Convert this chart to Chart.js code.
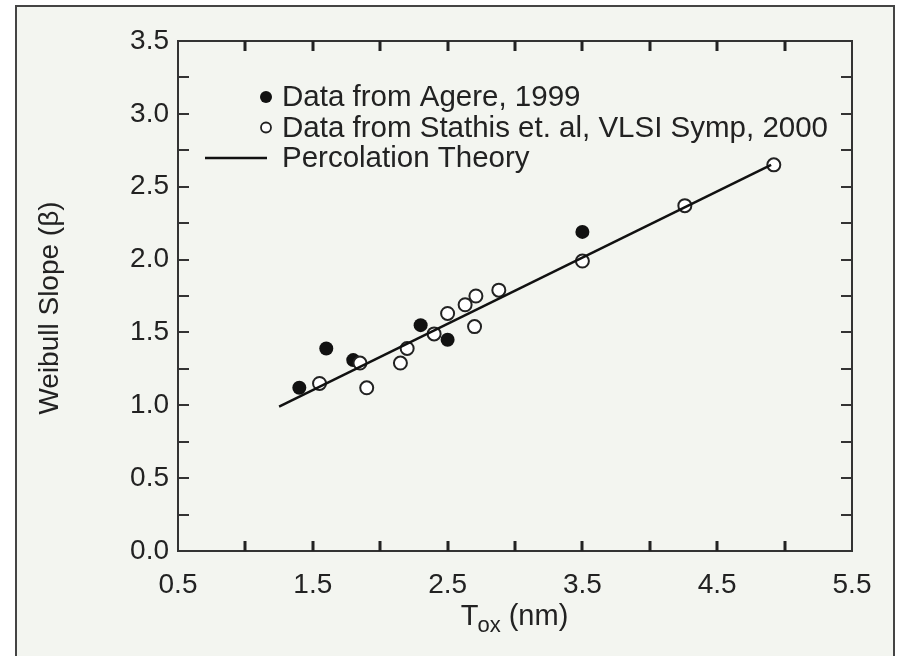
<!DOCTYPE html>
<html>
<head>
<meta charset="utf-8">
<script src="https://cdn.jsdelivr.net/npm/chart.js@4/dist/chart.umd.min.js"></script>
<style>
  body { margin: 0; background: #fff; }
  canvas { display: block; }
</style>
</head>
<body>
<canvas id="chart" width="898" height="656"></canvas>
<script>
// data
const agereX = [1.40, 1.60, 1.80, 2.30, 2.50, 3.50];
const agereY = [1.12, 1.39, 1.31, 1.55, 1.45, 2.19];

const stathisX = [1.55, 1.85, 1.90, 2.15, 2.20, 2.40, 2.50, 2.63, 2.70, 2.71, 2.88, 3.50, 4.26, 4.92];
const stathisY = [1.15, 1.29, 1.12, 1.29, 1.39, 1.49, 1.63, 1.69, 1.54, 1.75, 1.79, 1.99, 2.37, 2.65];

const theoryX = [1.25, 4.90];
const theoryY = [0.99, 2.65];

const xLabels = ['0.5', '1.5', '2.5', '3.5', '4.5', '5.5'];
const yLabels = ['0.0', '0.5', '1.0', '1.5', '2.0', '2.5', '3.0', '3.5'];

const legendItems = [
  { kind: 'filled', text: 'Data from Agere, 1999' },
  { kind: 'open', text: 'Data from Stathis et. al, VLSI Symp, 2000' },
  { kind: 'line', text: 'Percolation Theory' }
];

const INK = '#222';
const PANEL = '#f3f5f0';
const FONT = '"Liberation Sans", Arial, sans-serif';

const toPoints = (xs, ys) => xs.map((x, i) => ({ x, y: ys[i] }));

// panel background, frame, plot box, inward ticks, titles, legend
const decor = {
  id: 'decor',
  beforeDraw(chart) {
    const ctx = chart.ctx;
    ctx.save();
    ctx.fillStyle = '#fff';
    ctx.fillRect(0, 0, chart.width, chart.height);
    ctx.fillStyle = PANEL;
    ctx.fillRect(16, 6, 878, 660);
    ctx.strokeStyle = '#444';
    ctx.lineWidth = 2;
    ctx.strokeRect(16, 6, 878, 660);
    ctx.restore();
  },
  afterDraw(chart) {
    const ctx = chart.ctx;
    const a = chart.chartArea;
    const xs = chart.scales.x, ys = chart.scales.y;
    ctx.save();
    ctx.strokeStyle = '#333';
    ctx.lineWidth = 2;
    ctx.strokeRect(a.left, a.top, a.right - a.left, a.bottom - a.top);

    ctx.lineWidth = 3;
    ctx.strokeStyle = '#222';
    ctx.beginPath();
    xs.ticks.forEach(t => {
      if (t.value <= xs.min || t.value >= xs.max) return;
      const px = Math.round(xs.getPixelForValue(t.value));
      ctx.moveTo(px, a.bottom); ctx.lineTo(px, a.bottom - 10);
      ctx.moveTo(px, a.top); ctx.lineTo(px, a.top + 10);
    });
    ctx.stroke();
    ctx.lineWidth = 2;
    ctx.strokeStyle = '#333';
    ctx.beginPath();
    ys.ticks.forEach(t => {
      if (t.value <= ys.min || t.value >= ys.max) return;
      const py = Math.round(ys.getPixelForValue(t.value));
      ctx.moveTo(a.left, py); ctx.lineTo(a.left + 11, py);
      ctx.moveTo(a.right, py); ctx.lineTo(a.right - 11, py);
    });
    ctx.stroke();

    // x title with subscript
    ctx.fillStyle = INK;
    ctx.textBaseline = 'alphabetic';
    ctx.font = '29px ' + FONT;
    const tW = ctx.measureText('T').width;
    ctx.font = '22px ' + FONT;
    const subW = ctx.measureText('ox').width;
    ctx.font = '29px ' + FONT;
    const restW = ctx.measureText(' (nm)').width;
    let x0 = (a.left + a.right) / 2 - (tW + subW + restW) / 2;
    const base = a.bottom + 74;
    ctx.textAlign = 'left';
    ctx.fillText('T', x0, base);
    ctx.font = '22px ' + FONT;
    ctx.fillText('ox', x0 + tW - 1, base + 7);
    ctx.font = '29px ' + FONT;
    ctx.fillText(' (nm)', x0 + tW + subW - 1, base);

    // y title
    ctx.save();
    ctx.translate(50, (a.top + a.bottom) / 2 + 12);
    ctx.rotate(-Math.PI / 2);
    ctx.textAlign = 'center';
    ctx.textBaseline = 'middle';
    ctx.font = '28px ' + FONT;
    ctx.fillText('Weibull Slope (\u03b2)', 0, 0);
    ctx.restore();

    // legend inside the plot
    ctx.font = '29.5px ' + FONT;
    ctx.textAlign = 'left';
    ctx.textBaseline = 'middle';
    legendItems.forEach((it, i) => {
      const y = a.top + 56 + i * 30.5;
      const mx = a.left + 88;
      if (it.kind === 'filled') {
        ctx.fillStyle = '#111';
        ctx.beginPath(); ctx.arc(mx, y, 6, 0, Math.PI * 2); ctx.fill();
      } else if (it.kind === 'open') {
        ctx.fillStyle = '#fff';
        ctx.strokeStyle = '#222';
        ctx.lineWidth = 1.8;
        ctx.beginPath(); ctx.arc(mx, y, 5, 0, Math.PI * 2); ctx.fill(); ctx.stroke();
      } else {
        ctx.strokeStyle = '#111';
        ctx.lineWidth = 2.5;
        ctx.beginPath(); ctx.moveTo(a.left + 27, y); ctx.lineTo(a.left + 89, y); ctx.stroke();
      }
      ctx.fillStyle = INK;
      ctx.fillText(it.text, a.left + 104, y + 1);
    });
    ctx.restore();
  }
};

new Chart(document.getElementById('chart'), {
  type: 'scatter',
  data: {
    datasets: [
      {
        label: 'Percolation Theory',
        data: toPoints(theoryX, theoryY),
        showLine: true,
        borderColor: '#111',
        borderWidth: 2.5,
        pointRadius: 0,
        order: 0
      },
      {
        label: 'Data from Stathis et. al, VLSI Symp, 2000',
        data: toPoints(stathisX, stathisY),
        pointRadius: 6.5,
        pointBorderWidth: 2,
        pointBackgroundColor: '#fff',
        pointBorderColor: '#222',
        order: 1
      },
      {
        label: 'Data from Agere, 1999',
        data: toPoints(agereX, agereY),
        pointRadius: 7,
        pointBorderWidth: 0,
        pointBackgroundColor: '#111',
        pointBorderColor: '#111',
        order: 2
      }
    ]
  },
  options: {
    responsive: false,
    animation: false,
    events: [],
    layout: { padding: { left: 0, top: 41, right: 46, bottom: 0 } },
    plugins: { legend: { display: false }, tooltip: { enabled: false } },
    scales: {
      x: {
        type: 'linear',
        min: 0.5, max: 5.5,
        afterFit: s => { s.height = 105; },
        grid: { display: false },
        border: { display: false },
        ticks: {
          stepSize: 0.5,
          autoSkip: false,
          maxRotation: 0,
          padding: 9,
          color: INK,
          font: { family: FONT, size: 28 },
          callback: v => {
            const s = v.toFixed(1);
            return xLabels.includes(s) ? s : '';
          }
        }
      },
      y: {
        type: 'linear',
        min: 0, max: 3.5,
        afterFit: s => { s.width = 178; },
        grid: { display: false },
        border: { display: false },
        ticks: {
          stepSize: 0.25,
          autoSkip: false,
          padding: 1,
          color: INK,
          font: { family: FONT, size: 28 },
          callback: v => {
            const s = v.toFixed(1);
            return (Math.abs(v * 2 - Math.round(v * 2)) < 1e-6 && yLabels.includes(s)) ? s : '';
          }
        }
      }
    }
  },
  plugins: [decor]
});
</script>
</body>
</html>
